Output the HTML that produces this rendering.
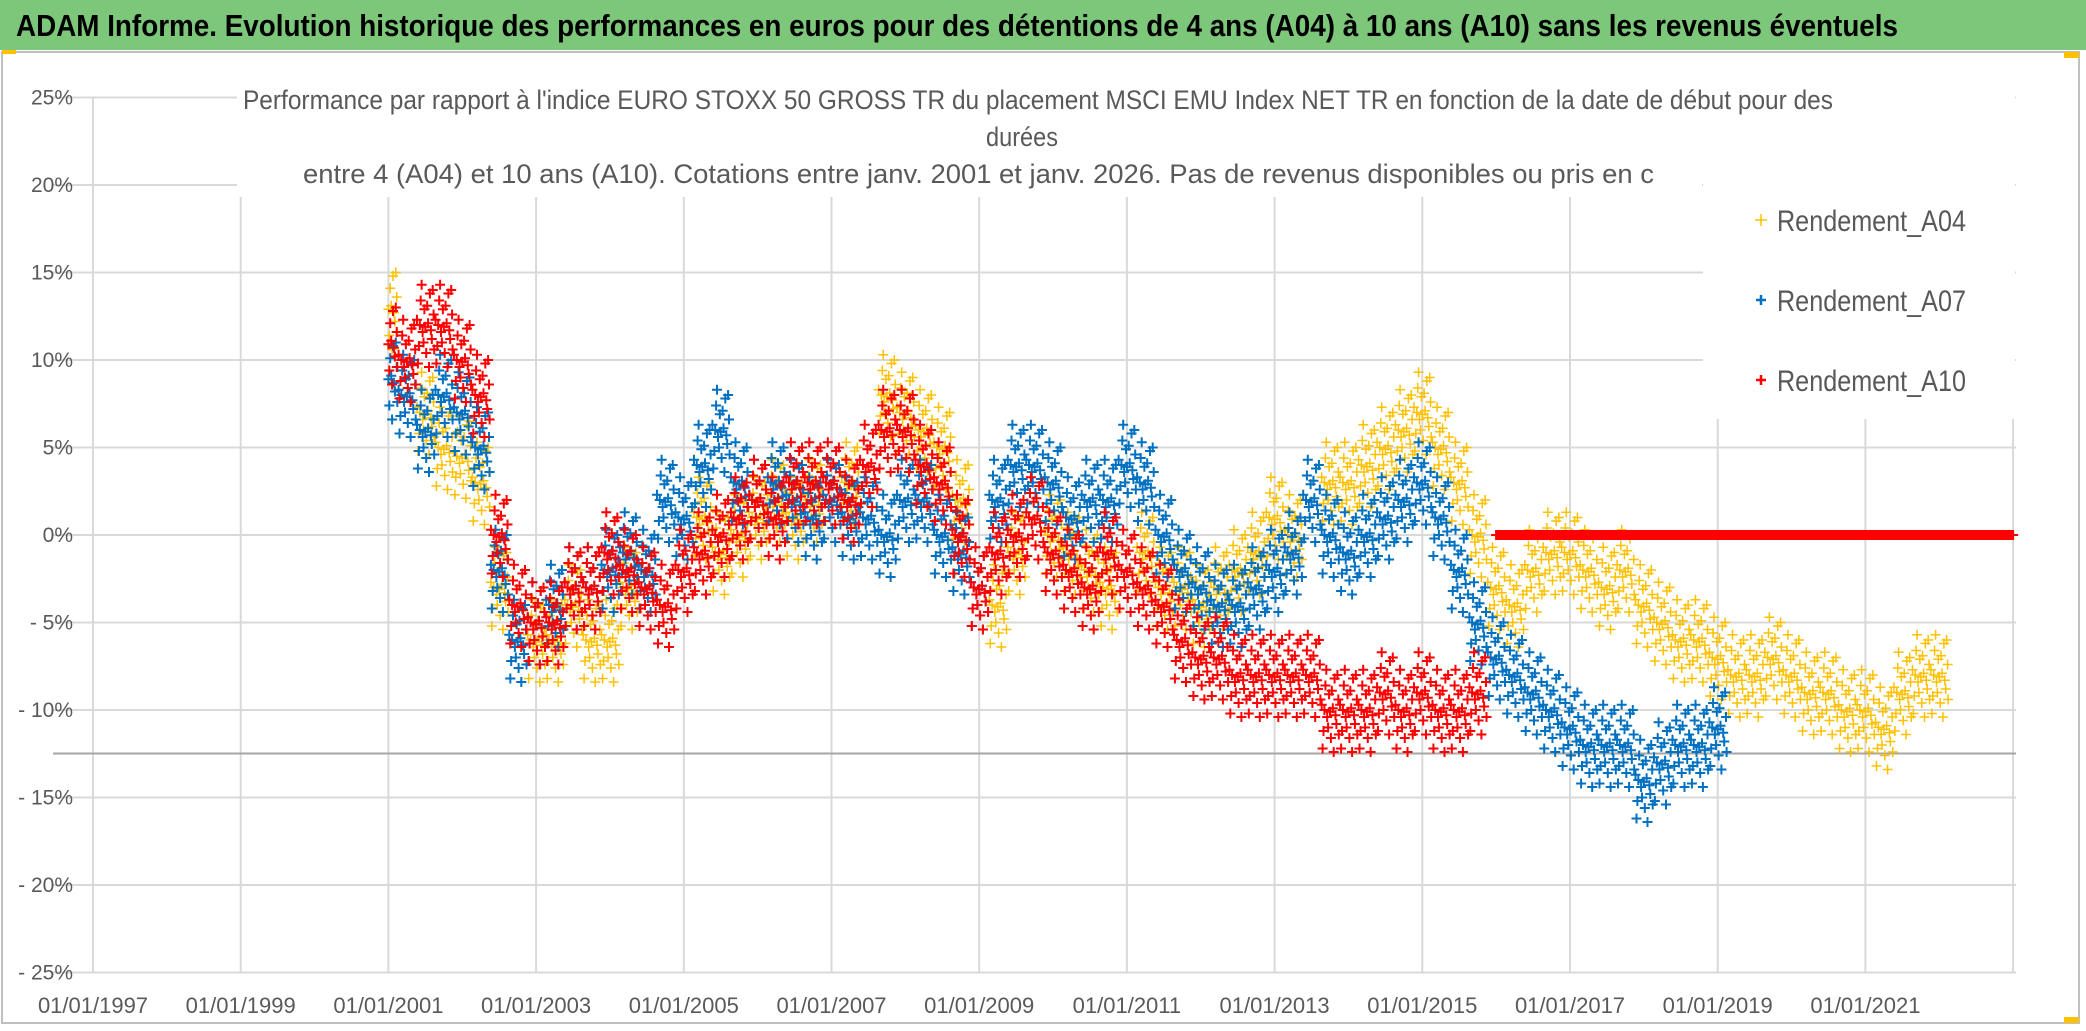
<!DOCTYPE html>
<html><head><meta charset="utf-8">
<style>
html,body{margin:0;padding:0;background:#fff;}
svg{display:block;}
</style></head>
<body>
<svg id="chart" width="2086" height="1031" viewBox="0 0 2086 1031" xmlns="http://www.w3.org/2000/svg" font-family="'Liberation Sans', sans-serif">
  <rect x="0" y="0" width="2086" height="1031" fill="#fff"/>
  <rect x="0" y="0" width="2086" height="50" fill="#7dc77b"/>
  <text x="16" y="36" font-size="31" font-weight="bold" fill="#000" textLength="1882" lengthAdjust="spacingAndGlyphs">ADAM Informe. Evolution historique des performances en euros pour des détentions de 4 ans (A04) à 10 ans (A10) sans les revenus éventuels</text>
  <rect x="2" y="52" width="2077" height="971" fill="none" stroke="#bfbfbf" stroke-width="2"/>
  <rect x="2064" y="52" width="15" height="6" fill="#ffc000"/>
  <rect x="2064" y="1017" width="15" height="6" fill="#ffc000"/>
  <rect x="2" y="50" width="14" height="4" fill="#ffc000"/>
  <g id="grid"></g>
  <g id="ylabels"></g>
  <g id="xlabels"></g>
  <line x1="53" y1="753.5" x2="2016" y2="753.5" stroke="#a6a6a6" stroke-width="2"/>
  <g id="marks"></g>
  <rect x="237" y="55" width="1465" height="142" fill="#fff"/>
  <rect x="1703" y="55" width="312" height="364" fill="#fff"/>
  <g fill="#595959" font-size="27">
    <text x="243" y="109" textLength="1590" lengthAdjust="spacingAndGlyphs">Performance  par rapport à l'indice EURO STOXX 50 GROSS TR  du placement MSCI EMU Index NET TR en fonction de la date de début pour des</text>
    <text x="1022" y="146" text-anchor="middle" textLength="72" lengthAdjust="spacingAndGlyphs">durées</text>
    <text x="303" y="183" textLength="1351" lengthAdjust="spacingAndGlyphs">entre 4 (A04) et 10 ans (A10). Cotations entre janv. 2001 et janv. 2026. Pas de revenus disponibles ou pris en c</text>
  </g>
  <g font-size="30" fill="#595959">
    <g>
      <path d="M1755 220h12M1761 214v12" stroke="#ffc000" stroke-width="1.5"/>
      <text x="1777" y="231" textLength="189" lengthAdjust="spacingAndGlyphs">Rendement_A04</text>
    </g>
    <g>
      <path d="M1756 300h10M1761 295v10" stroke="#0070c0" stroke-width="2.5"/>
      <text x="1777" y="311" textLength="189" lengthAdjust="spacingAndGlyphs">Rendement_A07</text>
    </g>
    <g>
      <path d="M1756 380h10M1761 375v10" stroke="#ff0000" stroke-width="2.5"/>
      <text x="1777" y="391" textLength="189" lengthAdjust="spacingAndGlyphs">Rendement_A10</text>
    </g>
  </g>
</svg>
<script>
const yTicks = [25, 20, 15, 10, 5, 0, -5, -10, -15, -20, -25];
const yTickLabels = ["25%", "20%", "15%", "10%", "5%", "0%", "- 5%", "- 10%", "- 15%", "- 20%", "- 25%"];
const xTicks = [1997, 1999, 2001, 2003, 2005, 2007, 2009, 2011, 2013, 2015, 2017, 2019, 2021];
const xTickLabels = ["01/01/1997","01/01/1999","01/01/2001","01/01/2003","01/01/2005","01/01/2007","01/01/2009","01/01/2011","01/01/2013","01/01/2015","01/01/2017","01/01/2019","01/01/2021"];
// quarterly values starting 2001.0
const seriesStart = 2001.0;
const a04 = [13,10,7,5, 4.5,3,-3,-6, -6,-6,-4,-6, -6,-3,-2,-4, -2,1,-1,0, 1,2,1,2, 2,3,4,8, 7,6,5,2, -3,-4,-1,1, 0,-1,-2,-3, -2,-1,-3,-3, -4,-3,-2,-1, 1,0,2,3, 3,4,5,6, 7,5,3,0, -3,-4,-2,-1, -1,-2,-3,-2, -4,-5,-6,-6, -7,-8,-8,-7, -8,-9,-9,-10, -10,-11,-9,-8, -8];
const a07 = [9,8,6,8, 7,5,-2,-6, -5,-4,-3,-3, -2,-1,-2,2, 1,4,6,3, 2,3,2,1, 2,1,1,0, 2,2,0,-1, -3,2,4,4, 3,1,2,2, 4,3,0,-2, -3,-4,-4,-3, -2,-1,2,0, -1,0,1,2, 3,1,-2,-5, -7,-8,-9,-10, -11,-12,-12,-12, -14,-13,-12,-12, -11];
const a10 = [11,10,12,12, 10,8,0,-4, -5,-5,-3,-3, -1,-2,-3,-4, -2,-1,0,1, 2,1,3,3, 3,2,4,6, 6,4,3,0, -3,-1,0,1, -1,-2,-3,-1, -2,-3,-4,-6, -7,-7,-8,-8, -8,-8,-8,-10, -10,-10,-9,-10, -9,-10,-10,-9];
const a04FlatYears = [2022.1, 2023.0];
const a10FlatYears = [2016.0, 2023.0];
const flatValue = 0;

const X0 = 93, XPY = 73.85, Y0 = 535, YPP = 17.5;
const xs = yr => X0 + (yr - 1997) * XPY;
const ys = v => Y0 - v * YPP;
const NS = "http://www.w3.org/2000/svg";
function mk(tag, attrs, parent){const e=document.createElementNS(NS,tag);for(const k in attrs)e.setAttribute(k,attrs[k]);parent.appendChild(e);return e;}

const grid = document.getElementById('grid');
yTicks.forEach((t,i)=>{
  const l = mk('line',{x1:53,x2:2016,y1:ys(t),y2:ys(t),stroke:'#d9d9d9','stroke-width':2},grid);
  
  
  const tx = mk('text',{x:73,y:ys(t)+7,'text-anchor':'end','font-size':21,fill:'#595959'},document.getElementById('ylabels'));
  tx.textContent = yTickLabels[i];
  
  
});
xTicks.forEach((t,i)=>{
  const l = mk('line',{x1:xs(t),x2:xs(t),y1:97,y2:972,stroke:'#d9d9d9','stroke-width':2},grid);
  
  
  const tx = mk('text',{x:xs(t),y:1013,'text-anchor':'middle','font-size':22,fill:'#595959'},document.getElementById('xlabels'));
  tx.textContent = xTickLabels[i];
  
  
});
mk('line',{x1:xs(2023),x2:xs(2023),y1:97,y2:972,stroke:'#d9d9d9','stroke-width':2},grid);

// fixed cluster pattern (marker scatter around each quarterly value): [dx in quarters, dy in %]
const pattern = [[-0.45,0.3],[-0.35,-1.2],[-0.25,1.4],[-0.15,-0.4],[-0.05,0.9],[0.05,-1.6],[0.15,0.1],[0.25,1.8],[0.35,-0.8],[0.45,0.6],
                 [-0.4,-2.2],[-0.2,2.3],[0,-0.1],[0.2,-2.4],[0.4,2.0],[-0.3,0.0],[0.1,1.1],[0.3,-0.3],[-0.1,-1.0],[0.48,-1.4]];
const marks = document.getElementById('marks');
function plus(g, x, y, color, sz, sw){
  const p = mk('path',{d:`M${(x-sz).toFixed(1)} ${y.toFixed(1)}h${2*sz}M${x.toFixed(1)} ${(y-sz).toFixed(1)}v${2*sz}`,stroke:color,'stroke-width':sw,fill:'none'},g);
  
  
}
function drawSeries(vals, color, sw, name, flat){
  const g = mk('g',{},marks);
  
  
  vals.forEach((v,i)=>{
    const t = seriesStart + i*0.25;
    pattern.forEach(([dx,dy])=>{
      const tt = t + dx*0.25;
      if (tt < 2001) return;
      plus(g, xs(tt), ys(v+dy), color, 5, sw);
    });
  });
  if (flat){
    for (let t=flat[0]; t<=flat[1]; t+=0.02) plus(g, xs(t), ys(flatValue), color, 5, sw);
  }
}
drawSeries(a04,'#ffc000',1.5,'series-a04',a04FlatYears);
drawSeries(a07,'#0070c0',2,'series-a07',null);
drawSeries(a10,'#ff0000',2,'series-a10',a10FlatYears);
</script>
</body></html>
